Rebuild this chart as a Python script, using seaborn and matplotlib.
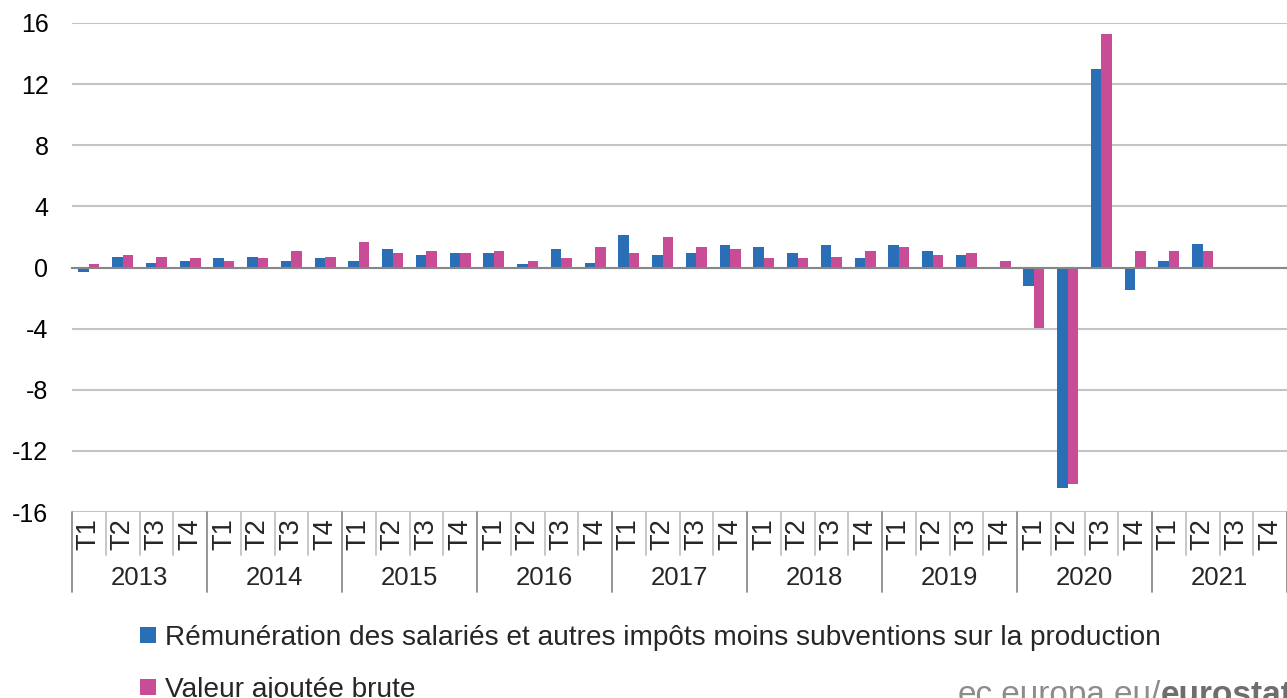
import numpy as np
import pandas as pd
import matplotlib
matplotlib.use("Agg")
import matplotlib.pyplot as plt
import seaborn as sns
from matplotlib.transforms import blended_transform_factory

# data (% change vs previous quarter)
years = ["2013", "2014", "2015", "2016", "2017", "2018", "2019", "2020", "2021"]
quarters = ["T1", "T2", "T3", "T4"]

remuneration = [-0.3, 0.7, 0.3, 0.45,
                0.6, 0.7, 0.45, 0.6,
                0.45, 1.2, 0.8, 0.95,
                0.95, 0.2, 1.2, 0.3,
                2.1, 0.8, 0.95, 1.45,
                1.35, 0.95, 1.45, 0.6,
                1.45, 1.1, 0.8, 0.0,
                -1.2, -14.4, 13.0, -1.45,
                0.45, 1.55, np.nan, np.nan]
valeur_ajoutee = [0.2, 0.85, 0.7, 0.6,
                  0.45, 0.6, 1.1, 0.7,
                  1.7, 0.95, 1.1, 0.95,
                  1.1, 0.45, 0.6, 1.35,
                  0.95, 2.0, 1.35, 1.2,
                  0.6, 0.6, 0.7, 1.1,
                  1.35, 0.8, 0.95, 0.45,
                  -3.95, -14.15, 15.3, 1.05,
                  1.05, 1.05, np.nan, np.nan]

series_names = ["Rémunération des salariés et autres impôts moins subventions sur la production",
                "Valeur ajoutée brute"]
colors = ["#2a6fb6", "#c84d96"]

periodes = [f"{y} {q}" for y in years for q in quarters]
df = pd.concat([
    pd.DataFrame({"periode": periodes, "serie": series_names[0], "valeur": remuneration}),
    pd.DataFrame({"periode": periodes, "serie": series_names[1], "valeur": valeur_ajoutee}),
], ignore_index=True)

W, H = 1287, 698
sns.set_style("white")
plt.rcParams["font.family"] = ["Liberation Sans", "DejaVu Sans"]
plt.rcParams["axes.unicode_minus"] = False

fig = plt.figure(figsize=(W / 100, H / 100), dpi=100)
ax = fig.add_axes([72 / W, 1 - 512 / H, 1 - 72 / W, (512 - 23) / H])

sns.barplot(data=df, x="periode", y="valeur", hue="serie", order=periodes,
            hue_order=series_names, palette=colors, saturation=1, width=0.62,
            errorbar=None, linewidth=0, ax=ax)

handles, labels = ax.get_legend_handles_labels()
ax.get_legend().remove()

n = len(periodes)
ax.set_xlim(-0.5, -0.5 + (W - 72) / 34.15)
ax.set_ylim(-16, 16)
ax.set_yticks(range(-16, 17, 4))
ax.yaxis.grid(True, color="#c4c4c4", lw=1.5)
ax.set_axisbelow(True)
ax.set_xlabel("")
ax.set_ylabel("")
for s in ["left", "top", "right"]:
    ax.spines[s].set_visible(False)
ax.spines["bottom"].set_position(("data", 0))
ax.spines["bottom"].set_color("#878787")
ax.spines["bottom"].set_linewidth(1.5)
ax.spines["bottom"].set_zorder(3)
ax.set_xticks(np.arange(-0.5, n, 1.0))
ax.set_xticklabels([])
ax.tick_params(axis="x", length=6, width=1.5, color="#878787", direction="out")
ax.tick_params(axis="y", length=0, pad=17, labelsize=18, labelcolor="black")

# two level category axis below the plot
trans = blended_transform_factory(ax.transData, fig.transFigure)
fy = lambda px: 1 - px / H
for i, p in enumerate(periodes):
    ax.text(i, fy(534), p.split()[1], rotation=90, ha="center", va="center",
            fontsize=19.5, transform=trans, clip_on=False)
for b in np.arange(-0.5, n, 1.0):
    if (b + 0.5) % 4 == 0:
        ax.plot([b, b], [fy(512), fy(592)], color="#8c8c8c", lw=1.3,
                transform=trans, clip_on=False)
    else:
        ax.plot([b, b], [fy(512), fy(555)], color="#c4c4c4", lw=1.3,
                transform=trans, clip_on=False)
for k, y in enumerate(years):
    ax.text(4 * k + 1.5, fy(578), y, ha="center", va="center", fontsize=18.5,
            transform=trans, clip_on=False)

fig.legend(handles, labels, loc="upper left", bbox_to_anchor=(140 / W, fy(625)),
           frameon=False, fontsize=20.2, handlelength=0.58, handleheight=0.5,
           handletextpad=0.3, labelspacing=0.93, borderpad=0, borderaxespad=0)

# watermark (cut by the bottom edge, as in the source image)
renderer = fig.canvas.get_renderer()
t_bold = fig.text(1293 / W, fy(704), "eurostat", ha="right", va="baseline",
                  fontsize=24, fontweight="bold", color="#6e6e6e")
bb = t_bold.get_window_extent(renderer=renderer)
fig.text(bb.x0 / W, fy(704), "ec.europa.eu/", ha="right", va="baseline",
         fontsize=24, color="#8c8c8c")

fig.savefig("out.png", dpi=100)
